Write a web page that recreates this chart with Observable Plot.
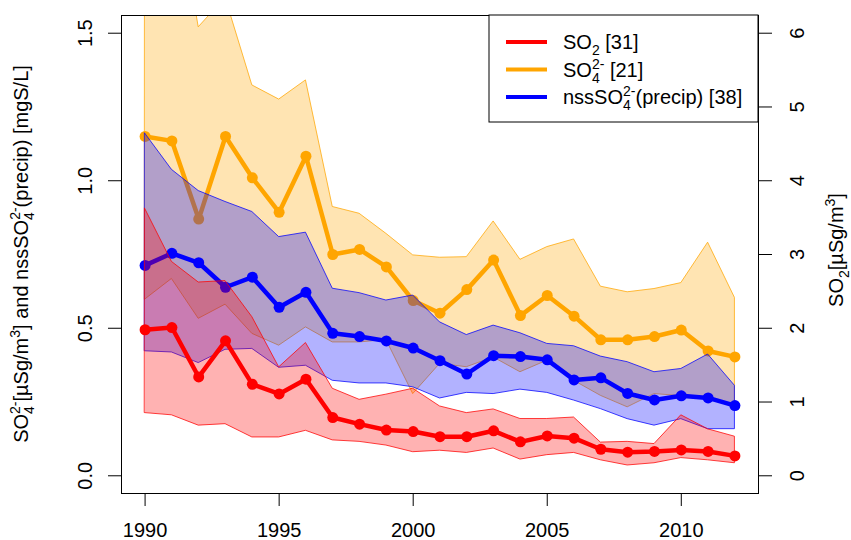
<!DOCTYPE html>
<html>
<head>
<meta charset="utf-8">
<script src="https://cdn.jsdelivr.net/npm/d3@7"></script>
<script src="https://cdn.jsdelivr.net/npm/@observablehq/plot@0.6"></script>
<style>
  html, body { margin: 0; padding: 0; background: white; }
</style>
</head>
<body>
<div id="chart"></div>
<script>
// ---- data ----
const years = [1990,1991,1992,1993,1994,1995,1996,1997,1998,1999,2000,2001,2002,2003,2004,2005,2006,2007,2008,2009,2010,2011,2012];

// SO4 2- in air [µgS/m3] (left axis)
const so4   = [1.15,1.135,0.87,1.15,1.01,0.893,1.083,0.75,0.767,0.708,0.594,0.551,0.631,0.731,0.543,0.611,0.541,0.461,0.461,0.472,0.494,0.423,0.403];
const so4Hi = [1.85,2.05,1.52,1.62,1.323,1.275,1.34,0.911,0.888,0.82,0.747,0.739,0.741,0.862,0.732,0.775,0.801,0.641,0.622,0.633,0.653,0.79,0.603];
const so4Lo = [0.597,0.667,0.532,0.58,0.481,0.441,0.503,0.452,0.452,0.46,0.277,0.379,0.368,0.401,0.351,0.39,0.322,0.271,0.232,0.277,0.27,0.265,0.235];

// nss SO4 2- in precipitation [mgS/L] (left axis)
const nss   = [0.713,0.754,0.722,0.639,0.673,0.571,0.622,0.483,0.472,0.457,0.433,0.39,0.345,0.407,0.404,0.393,0.325,0.332,0.279,0.257,0.271,0.264,0.238];
const nssHi = [1.16,1.037,0.965,0.928,0.894,0.809,0.824,0.634,0.619,0.594,0.611,0.52,0.477,0.509,0.483,0.447,0.439,0.404,0.385,0.351,0.362,0.411,0.305];
const nssLo = [0.422,0.418,0.382,0.427,0.43,0.366,0.373,0.322,0.313,0.313,0.3,0.262,0.281,0.277,0.292,0.281,0.255,0.226,0.192,0.17,0.192,0.158,0.158];

// SO2 in air [µgS/m3] (right axis)
const so2   = [1.98,2.01,1.34,1.83,1.24,1.11,1.31,0.79,0.70,0.62,0.60,0.53,0.53,0.61,0.46,0.54,0.51,0.36,0.32,0.33,0.35,0.33,0.27];
const so2Hi = [3.62,2.90,2.62,2.64,2.15,1.47,1.80,1.18,1.03,1.10,1.18,0.94,0.85,0.90,0.77,0.77,0.79,0.45,0.46,0.43,0.82,0.63,0.53];
const so2Lo = [0.85,0.82,0.68,0.70,0.52,0.52,0.61,0.48,0.46,0.41,0.32,0.34,0.31,0.37,0.22,0.28,0.31,0.21,0.14,0.17,0.24,0.21,0.17];

const leftTicks  = [0, 0.5, 1.0, 1.5];
const rightTicks = [0, 1, 2, 3, 4, 5, 6];
const xTicks     = [1990, 1995, 2000, 2005, 2010];
const so2Factor  = 4; // right axis (SO2) = 4 x left axis

const legendCounts = [31, 21, 38];

// ---- build table ----
const rows = years.map((year, i) => ({
  year,
  so4: so4[i], so4Hi: so4Hi[i], so4Lo: so4Lo[i],
  nss: nss[i], nssHi: nssHi[i], nssLo: nssLo[i],
  so2: so2[i] / so2Factor, so2Hi: so2Hi[i] / so2Factor, so2Lo: so2Lo[i] / so2Factor
}));

const RED = "#ff0000", ORANGE = "#ffa500", BLUE = "#0000ff";
const FONT = "'Liberation Sans', Arial, Helvetica, sans-serif";

function band(y1, y2, color) {
  return Plot.areaY(rows, {x: "year", y1, y2, fill: color, fillOpacity: 0.3,
    stroke: color, strokeOpacity: 0.75, strokeWidth: 1, clip: true});
}
function series(y, color) {
  return [
    Plot.line(rows, {x: "year", y, stroke: color, strokeWidth: 4.5, clip: true}),
    Plot.dot(rows, {x: "year", y, fill: color, r: 5.5, clip: true})
  ];
}

const svg = Plot.plot({
  width: 851,
  height: 540,
  marginLeft: 121,
  marginRight: 93,
  marginTop: 15,
  marginBottom: 47,
  style: {fontFamily: FONT, fontSize: "20px", background: "white", color: "black"},
  x: {domain: [1989.12, 2012.88], label: null},
  y: {domain: [-0.06, 1.56], label: null},
  marks: [
    band("so4Lo", "so4Hi", ORANGE),
    ...series("so4", ORANGE),
    band("nssLo", "nssHi", BLUE),
    ...series("nss", BLUE),
    band("so2Lo", "so2Hi", RED),
    ...series("so2", RED),
    Plot.frame({stroke: "black", strokeWidth: 1}),
    Plot.axisX({ticks: xTicks, tickFormat: d => String(d), tickSize: 13, tickPadding: 16,
      fontSize: 20, label: null}),
    Plot.axisY({anchor: "left", ticks: leftTicks, tickSize: 13, tickFormat: () => "", label: null}),
    Plot.axisY({anchor: "right", ticks: rightTicks.map(d => d / so2Factor), tickSize: 13,
      tickFormat: () => "", label: null}),
    Plot.text(leftTicks, {y: d => d, text: d => d.toFixed(1), frameAnchor: "left", dx: -36,
      rotate: -90, textAnchor: "middle", lineAnchor: "middle", fontSize: 20}),
    Plot.text(rightTicks, {y: d => d / so2Factor, text: d => String(d), frameAnchor: "right", dx: 39,
      rotate: -90, textAnchor: "middle", lineAnchor: "middle", fontSize: 20})
  ]
});

const root = d3.select(svg);
// the y axes only supply tick marks; drop their empty label groups
root.selectAll('g[aria-label="y-axis tick label"]').remove();

// ---- rich text helper (sub/superscripts like R plotmath) ----
const SMALL = 14;
function rich(textSel, parts) {
  let pending = 0; // baseline offset to restore on the next normal run
  for (const p of parts) {
    if (typeof p === "string") {
      const t = textSel.append("tspan").text(p);
      if (pending) t.attr("dy", pending);
      pending = 0;
    } else if (p.sub && p.sup) {
      const subW = 0.556 * SMALL * p.sub.length;
      textSel.append("tspan").attr("font-size", SMALL).attr("dy", 6 + pending).text(p.sub);
      textSel.append("tspan").attr("font-size", SMALL).attr("dx", -subW).attr("dy", -14).text(p.sup);
      pending = 8;
    } else if (p.sub) {
      textSel.append("tspan").attr("font-size", SMALL).attr("dy", 6 + pending).text(p.sub);
      pending = -6;
    } else if (p.sup) {
      textSel.append("tspan").attr("font-size", SMALL).attr("dy", -8 + pending).text(p.sup);
      pending = 8;
    }
  }
  return textSel;
}

// axis titles
rich(root.append("text")
  .attr("transform", "translate(28,254) rotate(-90)")
  .attr("text-anchor", "middle").attr("font-family", FONT).attr("font-size", 20).attr("fill", "black"),
  ["SO", {sub: "4", sup: "2-"}, "[\u00B5Sg/m", {sup: "3"}, "] and nssSO", {sub: "4", sup: "2-"}, "(precip) [mgS/L]"]);

rich(root.append("text")
  .attr("transform", "translate(843,250) rotate(-90)")
  .attr("text-anchor", "middle").attr("font-family", FONT).attr("font-size", 20).attr("fill", "black"),
  ["SO", {sub: "2"}, "[\u00B5Sg/m", {sup: "3"}, "]"]);

// legend
const lg = root.append("g").attr("font-family", FONT).attr("font-size", 20).attr("text-anchor", "start");
lg.append("rect").attr("x", 489).attr("y", 15).attr("width", 269).attr("height", 107)
  .attr("fill", "white").attr("stroke", "black").attr("stroke-width", 1);
const legendItems = [
  {color: RED,    parts: ["SO", {sub: "2"}, " [" + legendCounts[0] + "]"]},
  {color: ORANGE, parts: ["SO", {sub: "4", sup: "2-"}, " [" + legendCounts[1] + "]"]},
  {color: BLUE,   parts: ["nssSO", {sub: "4", sup: "2-"}, "(precip) [" + legendCounts[2] + "]"]}
];
legendItems.forEach((it, i) => {
  const cy = 42 + i * 27.5;
  lg.append("line").attr("x1", 506).attr("x2", 547).attr("y1", cy).attr("y2", cy)
    .attr("stroke", it.color).attr("stroke-width", 4);
  rich(lg.append("text").attr("x", 563).attr("y", cy + 7).attr("text-anchor", "start").attr("fill", "black"), it.parts);
});

document.getElementById("chart").appendChild(svg);
</script>
</body>
</html>
